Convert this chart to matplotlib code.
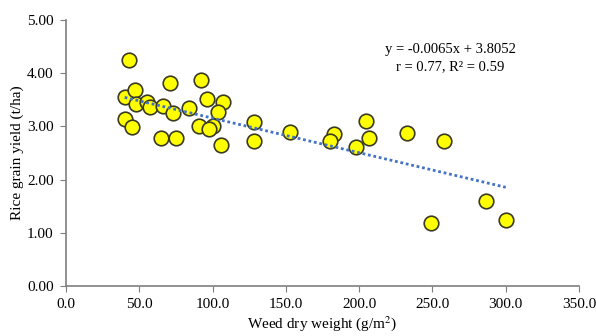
import matplotlib
matplotlib.use("Agg")
import matplotlib.pyplot as plt
import numpy as np

weed = [43, 40, 40, 45, 47, 48, 55, 57, 66, 73, 71, 65, 75, 84, 92, 96, 107, 104,
        91, 100, 97.5, 106, 128, 128, 153, 183, 180, 204.4, 206.7, 197.8, 232.8,
        257.8, 248.8, 286.3, 300]
yield_ = [4.25, 3.56, 3.14, 2.98, 3.68, 3.43, 3.45, 3.37, 3.39, 3.26, 3.81, 2.78,
          2.78, 3.34, 3.87, 3.52, 3.45, 3.28, 3.01, 3.01, 2.95, 2.65, 3.08, 2.73,
          2.90, 2.85, 2.73, 3.10, 2.79, 2.62, 2.88, 2.73, 1.18, 1.60, 1.25]
slope, intercept = -0.0065, 3.8052
fit_x = [40, 300]
xticks = [0, 50, 100, 150, 200, 250, 300, 350]
yticks = [0, 1, 2, 3, 4, 5]

plt.rcParams['font.family'] = ['Liberation Serif', 'DejaVu Serif']
plt.rcParams['mathtext.fontset'] = 'stix'

fig = plt.figure(figsize=(5.96, 3.36), dpi=100)
ax = fig.add_axes([66/596, 50/336, 513/596, 266/336])

fx = np.array(fit_x)
ax.scatter(weed, yield_, s=110, c='#FFFF00', edgecolors='#3a3a20', linewidths=1.2, zorder=2)
ax.plot(fx, slope*fx + intercept, linestyle=(0, (1, 1)), color='#4472C4', lw=2, zorder=3)

ax.set_xlim(0, 350)
ax.set_ylim(0, 5)
ax.set_xticks(xticks)
ax.set_xticklabels([f"{v:.1f}" for v in xticks])
ax.set_yticks(yticks)
ax.set_yticklabels([f"{v:.2f}" for v in yticks])
for s in ['top', 'right']:
    ax.spines[s].set_visible(False)
for s in ['left', 'bottom']:
    ax.spines[s].set_color('#7f7f7f')
    ax.spines[s].set_linewidth(1.2)
ax.tick_params(direction='out', length=4, color='#7f7f7f', labelsize=11, pad=5)
ax.set_xlabel('Weed dry weight (g/m$^{2}$)', fontsize=11, labelpad=2)
ax.set_ylabel('Rice grain yield (t/ha)', fontsize=11, labelpad=2)
ax.text(262, 4.45, 'y = -0.0065x + 3.8052', ha='center', va='center', fontsize=10.5)
ax.text(262, 4.13, 'r = 0.77, R² = 0.59', ha='center', va='center', fontsize=10.5)

fig.savefig('out.png', dpi=100)
